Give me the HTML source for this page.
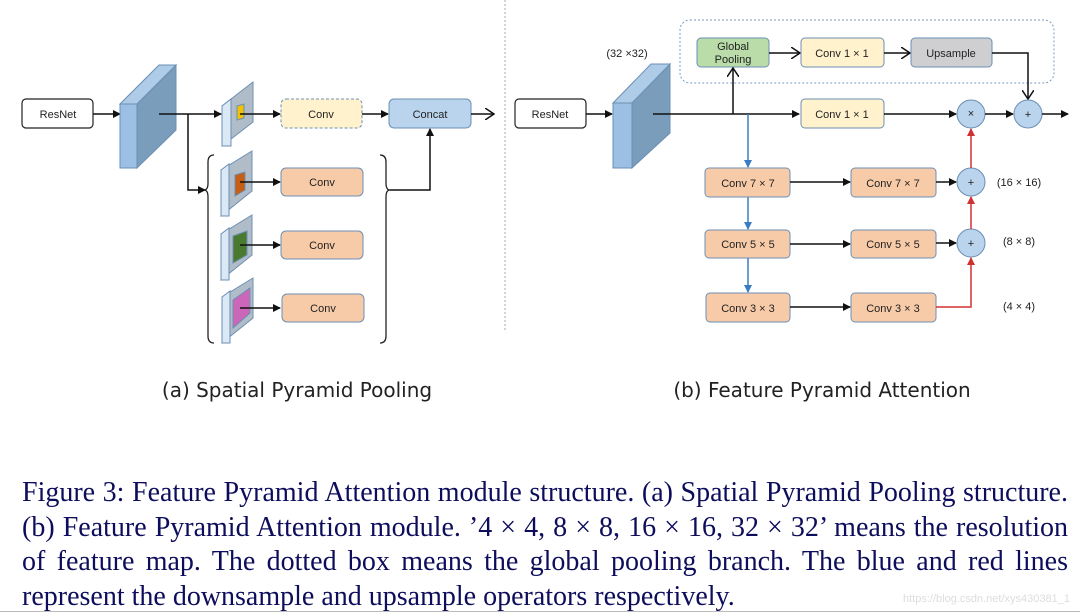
<!DOCTYPE html>
<html><head><meta charset="utf-8"><style>
html,body{margin:0;padding:0;background:#fff;width:1080px;height:613px;overflow:hidden;position:relative}
svg{display:block;position:absolute;left:0;top:0}
.b{font-family:"Liberation Sans",sans-serif;font-size:11px;fill:#222;text-anchor:middle}
.cap{position:absolute;left:22px;width:1046px;top:476px;font-family:"Liberation Serif",serif;font-size:28px;line-height:34.5px;color:#0d0d5c}
.cap div{white-space:nowrap;text-align:justify;text-align-last:justify}
.cap div.l{text-align-last:left}
.wm{position:absolute;left:903px;top:593px;font-family:"Liberation Sans",sans-serif;font-size:11px;color:#ddd}
</style></head><body>
<svg width="1080" height="613" viewBox="0 0 1080 613" xmlns="http://www.w3.org/2000/svg">
<defs>
<marker id="ak" markerWidth="8" markerHeight="8" refX="7" refY="4" orient="auto" markerUnits="userSpaceOnUse"><path d="M0,0 L8,4 L0,8 z" fill="#111"/></marker>
<marker id="ab" markerWidth="8" markerHeight="8" refX="7" refY="4" orient="auto" markerUnits="userSpaceOnUse"><path d="M0,0 L8,4 L0,8 z" fill="#3a7cc4"/></marker>
<marker id="ar" markerWidth="8" markerHeight="8" refX="7" refY="4" orient="auto" markerUnits="userSpaceOnUse"><path d="M0,0 L8,4 L0,8 z" fill="#d03030"/></marker>
<marker id="ao" markerWidth="10" markerHeight="12" refX="9" refY="6" orient="auto" markerUnits="userSpaceOnUse"><path d="M0,0 L9,6 L0,12" fill="none" stroke="#111" stroke-width="1.5"/></marker>
</defs>
<line x1="505" y1="0" x2="505" y2="330" stroke="#aaa" stroke-dasharray="2,2"/>
<!-- LEFT -->
<rect x="22" y="99" width="71" height="29" rx="4" fill="#fff" stroke="#222" stroke-width="1.2"/>
<text class="b" x="58" y="118" font-size="12">ResNet</text>
<line x1="93" y1="114" x2="120" y2="114" stroke="#111" stroke-width="1.5" marker-end="url(#ak)"/>
<polygon points="137,104 176,65 176,130 137,168" fill="#7a9dbb" stroke="#6b8fb3"/>
<polygon points="120,104 159,65 176,65 137,104" fill="#aecbe8" stroke="#6b8fb3"/>
<rect x="120" y="104" width="17" height="64" fill="#9bc0e4" stroke="#6b8fb3"/>
<g stroke="#6b8fb3">
<polygon points="222,106 253,82 253,122 222,146" fill="#b0bdc9"/>
<polygon points="222,106 231,99 231,146 222,146" fill="#dbe8f5"/>
<polygon points="237,106 244,104 244,118 237,120" fill="#f2c200"/>
<polygon points="221,170 252,151 252,191 221,216" fill="#b0bdc9"/>
<polygon points="221,170 229,164 229,216 221,216" fill="#dbe8f5"/>
<polygon points="235,175 245,172 245,190 235,196" fill="#c65e14"/>
<polygon points="221,234 252,215 252,255 221,280" fill="#b0bdc9"/>
<polygon points="221,234 229,228 229,280 221,280" fill="#dbe8f5"/>
<polygon points="233,236 247,231 247,255 233,263" fill="#4a7a30"/>
<polygon points="222,297 253,278 253,318 222,343" fill="#b0bdc9"/>
<polygon points="222,297 230,291 230,343 222,343" fill="#dbe8f5"/>
<polygon points="233,300 250,288 250,313 233,328" fill="#cc66b8"/>
</g>
<line x1="159" y1="114" x2="221" y2="114" stroke="#111" stroke-width="1.5" marker-end="url(#ak)"/>
<polyline points="188,114 188,190 205,190" fill="none" stroke="#111" stroke-width="1.5" marker-end="url(#ak)"/>
<path d="M214,155 Q208,155 208,162 L208,183 Q208,190 204,190 Q208,190 208,197 L208,336 Q208,343 214,343" fill="none" stroke="#222" stroke-width="1.3"/>
<path d="M380,155 Q386,155 386,162 L386,183 Q386,190 390,190 Q386,190 386,197 L386,336 Q386,343 380,343" fill="none" stroke="#222" stroke-width="1.3"/>
<polyline points="390,190 430,190 430,129" fill="none" stroke="#111" stroke-width="1.5" marker-end="url(#ak)"/>
<line x1="240" y1="114" x2="280" y2="114" stroke="#111" stroke-width="1.5" marker-end="url(#ak)"/>
<line x1="240" y1="182" x2="280" y2="182" stroke="#111" stroke-width="1.5" marker-end="url(#ak)"/>
<line x1="240" y1="245" x2="280" y2="245" stroke="#111" stroke-width="1.5" marker-end="url(#ak)"/>
<line x1="240" y1="308" x2="280" y2="308" stroke="#111" stroke-width="1.5" marker-end="url(#ak)"/>
<rect x="281" y="99" width="81" height="29" rx="5" fill="#fff2cc" stroke="#6b8fb3" stroke-dasharray="3,2"/>
<text class="b" x="321" y="118">Conv</text>
<line x1="362" y1="114" x2="388" y2="114" stroke="#111" stroke-width="1.5" marker-end="url(#ak)"/>
<rect x="389" y="99" width="82" height="29" rx="5" fill="#bad4ee" stroke="#6b8fb3"/>
<text class="b" x="430" y="118">Concat</text>
<line x1="471" y1="114" x2="494" y2="114" stroke="#111" stroke-width="1.5" marker-end="url(#ao)"/>
<g fill="#f8cba8" stroke="#6b8fb3">
<rect x="281" y="168" width="82" height="28" rx="5"/><rect x="281" y="231" width="82" height="28" rx="5"/><rect x="282" y="294" width="82" height="28" rx="5"/>
</g>
<text class="b" x="322" y="186">Conv</text><text class="b" x="322" y="249">Conv</text><text class="b" x="323" y="312">Conv</text>
<!-- RIGHT -->
<rect x="680" y="20" width="374" height="63" rx="10" fill="none" stroke="#7a9dbb" stroke-dasharray="2,2"/>
<rect x="515" y="99" width="71" height="29" rx="4" fill="#fff" stroke="#222" stroke-width="1.2"/>
<text class="b" x="550" y="118" font-size="12">ResNet</text>
<line x1="586" y1="114" x2="612" y2="114" stroke="#111" stroke-width="1.5" marker-end="url(#ak)"/>
<polygon points="632,103 670,64 670,133 632,168" fill="#7a9dbb" stroke="#6b8fb3"/>
<polygon points="613,103 651,64 670,64 632,103" fill="#aecbe8" stroke="#6b8fb3"/>
<rect x="613" y="103" width="19" height="65" fill="#9bc0e4" stroke="#6b8fb3"/>
<text class="b" x="627" y="57" font-size="10.5">(32 ×32)</text>
<rect x="697" y="38" width="72" height="29" rx="4" fill="#b9dca8" stroke="#6b8fb3"/>
<text class="b" x="733" y="50" font-size="10.5">Global</text><text class="b" x="733" y="63" font-size="10.5">Pooling</text>
<line x1="769" y1="53" x2="800" y2="53" stroke="#111" stroke-width="1.5" marker-end="url(#ao)"/>
<rect x="801" y="38" width="83" height="29" rx="4" fill="#fff2cc" stroke="#6b8fb3"/>
<text class="b" x="842" y="57">Conv 1 × 1</text>
<line x1="884" y1="53" x2="910" y2="53" stroke="#111" stroke-width="1.5" marker-end="url(#ao)"/>
<rect x="911" y="38" width="81" height="29" rx="4" fill="#cfcfd2" stroke="#6b8fb3"/>
<text class="b" x="951" y="57">Upsample</text>
<polyline points="992,53 1028,53 1028,99" fill="none" stroke="#111" stroke-width="1.5" marker-end="url(#ao)"/>
<line x1="653" y1="114" x2="799" y2="114" stroke="#111" stroke-width="1.5" marker-end="url(#ak)"/>
<line x1="733" y1="114" x2="733" y2="68" stroke="#111" stroke-width="1.5" marker-end="url(#ao)"/>
<rect x="801" y="99" width="83" height="29" rx="4" fill="#fff2cc" stroke="#6b8fb3"/>
<text class="b" x="842" y="118">Conv 1 × 1</text>
<line x1="884" y1="114" x2="956" y2="114" stroke="#111" stroke-width="1.5" marker-end="url(#ak)"/>
<circle cx="971" cy="114" r="14" fill="#bad4ee" stroke="#6b8fb3"/>
<text class="b" x="971" y="117" font-size="9">×</text>
<line x1="985" y1="114" x2="1013" y2="114" stroke="#111" stroke-width="1.5" marker-end="url(#ak)"/>
<circle cx="1028" cy="114" r="14" fill="#bad4ee" stroke="#6b8fb3"/>
<text class="b" x="1028" y="118" font-size="10">+</text>
<line x1="1042" y1="114" x2="1068" y2="114" stroke="#111" stroke-width="1.5" marker-end="url(#ak)"/>
<g stroke="#3a7cc4" stroke-width="1.5">
<line x1="748" y1="114" x2="748" y2="167" marker-end="url(#ab)"/>
<line x1="748" y1="197" x2="748" y2="229" marker-end="url(#ab)"/>
<line x1="748" y1="258" x2="748" y2="292" marker-end="url(#ab)"/>
</g>
<g fill="#f8cba8" stroke="#6b8fb3">
<rect x="705" y="168" width="85" height="29" rx="4"/><rect x="705" y="230" width="85" height="28" rx="4"/><rect x="706" y="293" width="84" height="29" rx="4"/>
<rect x="851" y="168" width="85" height="29" rx="4"/><rect x="851" y="230" width="85" height="28" rx="4"/><rect x="851" y="293" width="85" height="29" rx="4"/>
</g>
<text class="b" x="748" y="187">Conv 7 × 7</text><text class="b" x="748" y="248">Conv 5 × 5</text><text class="b" x="748" y="312">Conv 3 × 3</text>
<text class="b" x="893" y="187">Conv 7 × 7</text><text class="b" x="893" y="248">Conv 5 × 5</text><text class="b" x="893" y="312">Conv 3 × 3</text>
<g stroke="#111" stroke-width="1.5">
<line x1="790" y1="182" x2="850" y2="182" marker-end="url(#ak)"/>
<line x1="790" y1="244" x2="850" y2="244" marker-end="url(#ak)"/>
<line x1="790" y1="307" x2="850" y2="307" marker-end="url(#ak)"/>
<line x1="936" y1="182" x2="956" y2="182" marker-end="url(#ak)"/>
<line x1="936" y1="243" x2="956" y2="243" marker-end="url(#ak)"/>
</g>
<circle cx="971" cy="182" r="14" fill="#bad4ee" stroke="#6b8fb3"/><text class="b" x="971" y="186" font-size="10">+</text>
<circle cx="971" cy="243" r="14" fill="#bad4ee" stroke="#6b8fb3"/><text class="b" x="971" y="247" font-size="10">+</text>
<g stroke="#d03030" stroke-width="1.5" fill="none">
<polyline points="936,307 971,307 971,258" marker-end="url(#ar)"/>
<line x1="971" y1="229" x2="971" y2="197" marker-end="url(#ar)"/>
<line x1="971" y1="168" x2="971" y2="129" marker-end="url(#ar)"/>
</g>
<text class="b" x="1019" y="186" font-size="10.5">(16 × 16)</text>
<text class="b" x="1019" y="245" font-size="10.5">(8 × 8)</text>
<text class="b" x="1019" y="310" font-size="10.5">(4 × 4)</text>
<text x="297" y="397" text-anchor="middle" font-family="DejaVu Sans,sans-serif" font-size="20" fill="#222">(a) Spatial Pyramid Pooling</text>
<text x="822" y="397" text-anchor="middle" font-family="DejaVu Sans,sans-serif" font-size="20" fill="#222">(b) Feature Pyramid Attention</text>
<line x1="0" y1="611.5" x2="1080" y2="611.5" stroke="#bbb"/>
</svg>
<div class="cap">
<div>Figure 3: Feature Pyramid Attention module structure. (a) Spatial Pyramid Pooling structure.</div>
<div>(b) Feature Pyramid Attention module. ’4 × 4, 8 × 8, 16 × 16, 32 × 32’ means the resolution</div>
<div>of feature map.  The dotted box means the global pooling branch.  The blue and red lines</div>
<div class="l">represent the downsample and upsample operators respectively.</div>
</div>
<div class="wm">https://blog.csdn.net/xys430381_1</div>
</body></html>
